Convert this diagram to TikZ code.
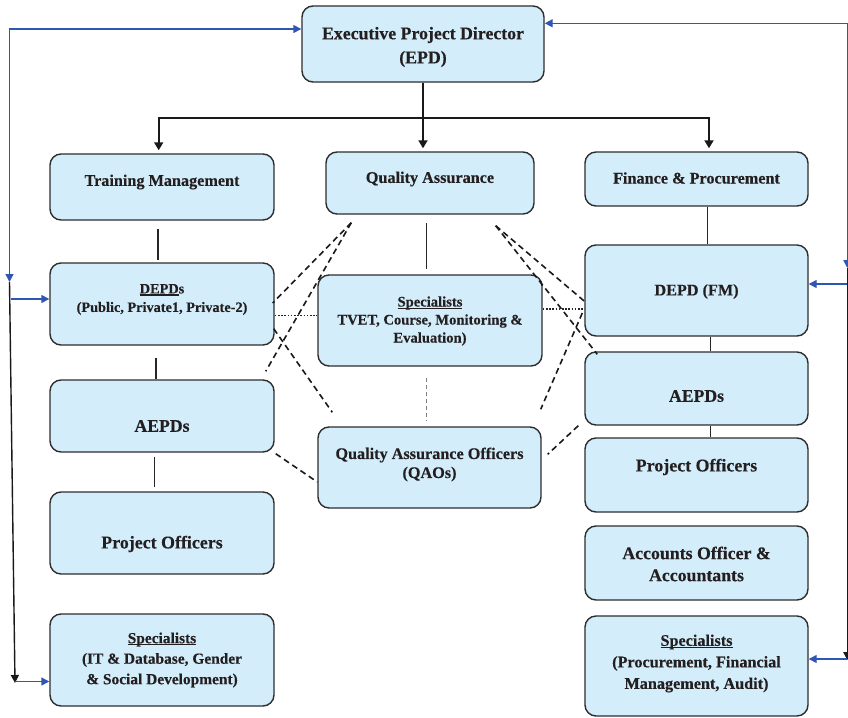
\documentclass[tikz,border=0pt]{standalone}
\usepackage{fontspec}
\setmainfont{Liberation Serif}[BoldFeatures={FakeBold=0.3}]
\usetikzlibrary{arrows.meta}
\definecolor{boxfill}{RGB}{212,237,250}
\definecolor{boxline}{RGB}{45,45,45}
\definecolor{txtcol}{RGB}{35,31,32}
\definecolor{linkblue}{RGB}{47,85,181}
\definecolor{paleblue}{RGB}{175,195,228}
\newcommand\setfs[2]{\fontsize{#1}{#2}\selectfont}
\newlength\ulwidth
\newcommand\myul[1]{\settowidth{\ulwidth}{#1}\rlap{\rule[-2.2pt]{\ulwidth}{1.2pt}}#1}
\tikzset{
  box/.style={draw=boxline, fill=boxfill, line width=1.4pt, rounded corners=11pt, inner sep=0pt},
  lbl/.style={text=txtcol, align=center, inner sep=0pt},
  tree/.style={line width=1.8pt, draw=black!90, -{Triangle[length=8pt,width=9pt]}, shorten >=3pt},
  link/.style={line width=1.5pt, draw=black!85},
  dashlink/.style={line width=1.6pt, draw=black!90, dash pattern=on 6pt off 4pt},
  graydash/.style={line width=1.3pt, draw=black!50, dash pattern=on 4pt off 3pt},
  dotlink/.style={line width=1.7pt, draw=black!85, dash pattern=on 1.6pt off 1.6pt},
  bluearrow/.style={line width=1.4pt, draw=linkblue, -{Triangle[length=8pt,width=8pt]}, color=linkblue},
  palearrow/.style={line width=1.2pt, draw=paleblue, -{Triangle[length=8pt,width=8pt]}, color=linkblue},
  blackarrow/.style={line width=1.4pt, draw=black!90, -{Triangle[length=8pt,width=8pt]}, color=black!90},
}
\begin{document}
\begin{tikzpicture}[x=1pt,y=-1pt]
\useasboundingbox (0,0) rectangle (848,717);

% boxes
\node[box, minimum width=242pt, minimum height=76pt] (epd) at (423,44) {};
\node[box, minimum width=224pt, minimum height=66pt] (tm) at (162,187) {};
\node[box, minimum width=208pt, minimum height=62pt] (qa) at (430,183) {};
\node[box, minimum width=223pt, minimum height=54pt] (fp) at (696.5,179) {};
\node[box, minimum width=224pt, minimum height=82pt] (depds) at (162,304) {};
\node[box, minimum width=224pt, minimum height=91pt] (specC) at (430,320.5) {};
\node[box, minimum width=223pt, minimum height=91pt] (fm) at (696.5,290.5) {};
\node[box, minimum width=224pt, minimum height=72pt] (aepdsL) at (162,416) {};
\node[box, minimum width=223pt, minimum height=81pt] (qao) at (429.5,467.5) {};
\node[box, minimum width=223pt, minimum height=73pt] (aepdsR) at (696.5,388.5) {};
\node[box, minimum width=224pt, minimum height=82pt] (poL) at (162,533) {};
\node[box, minimum width=223pt, minimum height=74pt] (poR) at (696.5,475) {};
\node[box, minimum width=223pt, minimum height=74pt] (acc) at (696.5,563) {};
\node[box, minimum width=224pt, minimum height=92pt] (specL) at (162,660) {};
\node[box, minimum width=223pt, minimum height=100pt] (specR) at (696.5,666) {};

% texts
\node[lbl, font=\bfseries\setfs{17.8}{24}] (epdT) at ([yshift=-3pt]epd.center) {Executive Project Director\\(EPD)};
\node[lbl, font=\bfseries\setfs{16.2}{20}] (tmT) at ([yshift=5pt]tm.center) {Training Management};
\node[lbl, font=\bfseries\setfs{16.2}{20}] (qaT) at ([yshift=4pt]qa.center) {Quality Assurance};
\node[lbl, font=\bfseries\setfs{16.2}{20}] (fpT) at ([yshift=1pt]fp.center) {Finance \& Procurement};
\node[lbl, font=\bfseries\setfs{14.3}{18.5}] (depdsT) at ([yshift=4.5pt]depds.center) {\myul{DEPD}s\\(Public, Private1, Private-2)};
\node[lbl, font=\bfseries\setfs{14.6}{18}] (specCT) at ([yshift=-0.5pt]specC.center) {\myul{Specialists}\\TVET, Course, Monitoring \&\\Evaluation)};
\node[lbl, font=\bfseries\setfs{16.2}{20}] (fmT) at ([yshift=-1pt]fm.center) {DEPD (FM)};
\node[lbl, font=\bfseries\setfs{17.7}{22}] (aepdsLT) at ([yshift=-10pt]aepdsL.center) {AEPDs};
\node[lbl, font=\bfseries\setfs{16.2}{19}] (qaoT) at ([yshift=3pt]qao.center) {Quality Assurance Officers\\(QAOs)};
\node[lbl, font=\bfseries\setfs{17.7}{22}] (aepdsRT) at ([yshift=-7.5pt]aepdsR.center) {AEPDs};
\node[lbl, font=\bfseries\setfs{17.9}{22}] (poLT) at ([yshift=-11pt]poL.center) {Project Officers};
\node[lbl, font=\bfseries\setfs{17.9}{22}] (poRT) at ([yshift=8pt]poR.center) {Project Officers};
\node[lbl, font=\bfseries\setfs{17.8}{22}] (accT) at ([yshift=-1pt]acc.center) {Accounts Officer \&\\Accountants};
\node[lbl, font=\bfseries\setfs{15.4}{20.5}] (specLT) at ([yshift=0pt]specL.center) {\myul{Specialists}\\(IT \& Database, Gender\\\& Social Development)};
\node[lbl, font=\bfseries\setfs{16.2}{21.5}] (specRT) at ([yshift=2.5pt]specR.center) {\myul{Specialists}\\(Procurement, Financial\\Management, Audit)};

% EPD tree
\draw[tree] (epd.south) -- ++(0,35) -| ([xshift=-3.3pt]tm.north);
\draw[tree] (epd.south) -- (epd.south |- qa.north);
\draw[tree] (epd.south) -- ++(0,35) -| ([xshift=12.5pt]fp.north);

% short solid links
\draw[link, shorten <=8.7pt, shorten >=2.3pt] ([xshift=-4pt]tm.south) -- ([xshift=-4pt]tm.south |- depds.north);
\draw[link, shorten <=12pt] ([xshift=-6pt]depds.south) -- ([xshift=-6pt]depds.south |- aepdsL.north);
\draw[link, shorten <=4pt, shorten >=4pt] ([xshift=-7.5pt]aepdsL.south) -- ([xshift=-7.5pt]aepdsL.south |- poL.north);
\draw[link, shorten <=8.7pt, shorten >=5.7pt] ([xshift=-3.5pt]qa.south) -- ([xshift=-3.5pt]qa.south |- specC.north);
\draw[graydash, shorten <=11pt, shorten >=5.3pt] ([xshift=-3.5pt]specC.south) -- ([xshift=-3.5pt]specC.south |- qao.north);
\draw[link] ([xshift=11.2pt]fp.south) -- ([xshift=11.2pt]fp.south |- fm.north);
\draw[link] ([xshift=14.2pt]fm.south) -- ([xshift=14.2pt]fm.south |- aepdsR.north);
\draw[link] ([xshift=14.2pt]aepdsR.south) -- ([xshift=14.2pt]aepdsR.south |- poR.north);

% dashed links (left)
\draw[dashlink] ([xshift=26pt,yshift=-8pt]qa.south west) -- ([xshift=-2pt,yshift=1pt]depds.east);
\draw[dashlink] ([xshift=26pt,yshift=-8pt]qa.south west) -- ([xshift=-9pt,yshift=8pt]aepdsL.north east);
\draw[dashlink] ([xshift=-1pt,yshift=17pt]depds.south east) -- ([xshift=15pt,yshift=14pt]qao.north west);
\draw[dashlink] ([xshift=1pt,yshift=-1pt]aepdsL.south east) -- ([yshift=-14.5pt]qao.west);
% dashed links (right)
\draw[dashlink] ([xshift=-39pt,yshift=-11pt]qa.south east) -- ([xshift=1pt,yshift=-11.5pt]fm.west);
\draw[dashlink] ([xshift=-39pt,yshift=-11pt]qa.south east) -- ([xshift=13pt,yshift=-3pt]aepdsR.north west);
\draw[dashlink] ([xshift=-2pt,yshift=-22.5pt]fm.west) -- ([xshift=-1pt,yshift=17pt]qao.north east);
\draw[dashlink] ([xshift=-6pt]aepdsR.south west) -- ([xshift=6pt,yshift=-28pt]qao.north east);

% dotted links
\draw[dotlink] ([yshift=-11.5pt]depds.east) -- ([yshift=-11.5pt]depds.east -| specC.west);
\draw[dotlink] ([yshift=11.5pt]specC.east) -- ([yshift=11.5pt]specC.east -| fm.west);

% left feedback arrows
\coordinate (lA) at (9.5,282);
\coordinate (lB) at (15,683);
\coordinate (lC) at (10.5,299);
\coordinate (lD) at (15,681.5);
\draw[bluearrow, {Triangle[length=8pt,width=8pt]}-{Triangle[length=8pt,width=8pt]}] ([yshift=15pt]epd.west) -| (lA);
\draw[blackarrow] (lA) -- (lB);
\draw[bluearrow] (lC) -- (lC -| depds.west);
\draw[bluearrow] (lD) -- (lD -| specL.west);

% right feedback arrows
\coordinate (rTop) at (847.3,23.3);
\coordinate (rA) at (847.3,268);
\coordinate (rB) at (847.3,660);
\coordinate (rC) at (846.5,284);
\coordinate (rD) at (846.5,659);
\draw[bluearrow] (rTop) -- (rTop -| epd.east);
\draw[palearrow] (rTop) -- (rA);
\draw[blackarrow] (rA) -- (rB);
\draw[bluearrow] (rC) -- (rC -| fm.east);
\draw[bluearrow] (rD) -- (rD -| specR.east);
\end{tikzpicture}
\end{document}
